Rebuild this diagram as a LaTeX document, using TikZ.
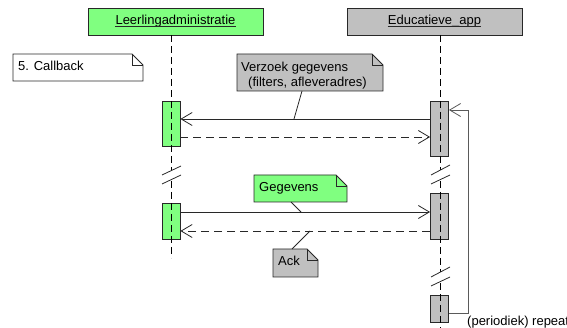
\documentclass[tikz,border=0pt]{standalone}
\usepackage{fontspec}
\setmainfont{Liberation Sans}
\usetikzlibrary{arrows.meta}
\definecolor{umlgreen}{RGB}{128,255,128}
\definecolor{umlgray}{RGB}{192,192,192}
\definecolor{umlline}{RGB}{40,40,40}
\definecolor{loopline}{RGB}{90,90,90}
\newcommand\umlnote[5]{%
  \filldraw[notestyle, fill=#5] (#1,#2) -- (#3-11,#2) -- (#3,#2+11) -- (#3,#4) -- (#1,#4) -- cycle;
  \draw[notestyle] (#3-11,#2) -- (#3-11,#2+11) -- (#3,#2+11);}
\begin{document}
\begin{tikzpicture}[x=1pt,y=-1pt,
  font=\fontsize{13pt}{15pt}\selectfont,
  headbox/.style={draw=umlline, line width=0.8pt, inner sep=0pt, minimum width=175pt, minimum height=27pt},
  actbox/.style={draw=umlline, line width=0.8pt, inner sep=0pt, minimum width=18pt},
  lifeline/.style={draw=black, line width=0.8pt, dash pattern=on 7pt off 4pt},
  notestyle/.style={draw=umlline, line width=0.8pt},
  txt/.style={anchor=base west, inner sep=0pt},
  headtxt/.style={anchor=base, inner sep=0pt},
  uline/.style={draw=umlline, line width=0.7pt},
  msg/.style={draw=umlline, line width=0.8pt, -{Straight Barb[length=11pt,width=13pt]}},
  ret/.style={msg, dash pattern=on 8pt off 5pt},
  brk/.style={draw=umlline, line width=0.8pt},
  link/.style={draw=umlline, line width=0.8pt}]
\useasboundingbox (0,0) rectangle (567,328);

% headers
\node[headbox, fill=umlgreen] (hl) at (175.5,21.5) {};
\node[headbox, fill=umlgray] (hr) at (434.5,21.5) {};
\node[headtxt] (hlt) at (175.5,24.5) {Leerlingadministratie};
\node[headtxt] (hrt) at (434.5,24.5) {Educatieve\_app};
\draw[uline] ([yshift=-1.6pt]hlt.base west) -- ([yshift=-1.6pt]hlt.base east);
\draw[uline] ([yshift=-1.6pt]hrt.base west) -- ([yshift=-1.6pt]hrt.base east);

% activation boxes
\node[actbox, fill=umlgreen, minimum height=45pt] (la1) at (171,123.5) {};
\node[actbox, fill=umlgreen, minimum height=36pt] (la2) at (171,221) {};
\node[actbox, fill=umlgray, minimum height=55pt] (ra1) at (439.5,128.5) {};
\node[actbox, fill=umlgray, minimum height=46pt] (ra2) at (439.5,216) {};
\node[actbox, fill=umlgray, minimum height=27pt] (ra3) at (439.5,308.5) {};

% lifelines
\coordinate (lend) at (171,258);
\coordinate (rend) at (440,330);
\draw[lifeline] (171,35) -- (171,170);
\draw[lifeline] (171,181) -- (lend);
\draw[lifeline] (440,35) -- (440,170);
\draw[lifeline] (440,181) -- (440,272);
\draw[lifeline] (440,283) -- (rend);

% break marks
\draw[brk] (162,175) -- (181,166) (162,184) -- (181,175);
\draw[brk] (431,175) -- (450,165) (431,184) -- (450,175);
\draw[brk] (431,277) -- (450,267) (431,286) -- (450,277);

% messages
\coordinate (m1) at (294,119);
\coordinate (m3) at (301,212);
\coordinate (m4) at (310,231);
\draw[msg] (ra1.west |- 0,119) -- (la1.east |- 0,119);
\draw[ret] (la1.east |- 0,137) -- (ra1.west |- 0,137);
\draw[msg] (la2.east |- 0,212) -- (ra2.west |- 0,212);
\draw[ret] (ra2.west |- 0,231) -- (la2.east |- 0,231);

% self loop
\coordinate (lp) at (468,110);
\draw[msg, draw=loopline] (ra3.east |- 0,313) -| (lp) -- (ra1.east |- lp);
\node[txt] (rep) at (467,325) {(periodiek) repeat};

% notes
\umlnote{13}{54}{143}{81}{white}
\node[txt] (n1) at (18,71) {5. Callback};

\umlnote{237}{54}{383}{91}{umlgray}
\node[txt] (n2a) at (241,72) {Verzoek gegevens};
\node[txt] (n2b) at (248,86.5) {(filters, afleveradres)};
\coordinate (n2c) at (302,91);
\draw[link] (n2c) -- (m1);

\umlnote{254}{175}{347}{202}{umlgreen}
\node[txt] (n3) at (259,192) {Gegevens};
\coordinate (n3c) at (291,202);
\draw[link] (n3c) -- (m3);

\umlnote{273}{249}{318}{277}{umlgray}
\node[txt] (n4) at (278,266) {Ack};
\coordinate (n4c) at (292,249);
\draw[link] (n4c) -- (m4);
\end{tikzpicture}
\end{document}
